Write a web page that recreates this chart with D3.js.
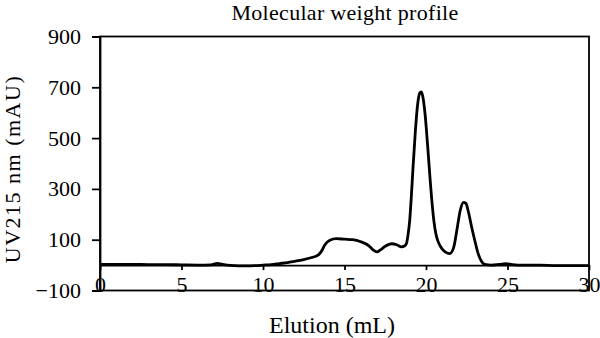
<!DOCTYPE html>
<html>
<head>
<meta charset="utf-8">
<script src="https://cdn.jsdelivr.net/npm/d3@7"></script>
<style>
  html, body { margin: 0; padding: 0; background: #fff; }
  svg { display: block; }
  text { font-family: "Liberation Serif", "Times New Roman", serif; fill: #000; }
</style>
</head>
<body>
<svg id="chart" width="600" height="338"></svg>
<script>
// Chromatogram trace: elution volume (mL) and UV absorbance at 215 nm (mAU)
const elution = [0, 1, 2, 3, 4, 5, 6, 6.8, 7.2, 7.6, 8, 9, 9.5, 10, 10.5, 11, 11.5, 12, 12.5, 13, 13.4, 13.6, 13.8, 14.1, 14.5, 15, 15.5, 16, 16.5, 16.8, 17.0, 17.2, 17.5, 17.9, 18.2, 18.5, 18.7, 18.8, 18.9, 19.0, 19.1, 19.2, 19.35, 19.5, 19.62, 19.7, 19.8, 19.95, 20.1, 20.25, 20.4, 20.5, 20.6, 20.7, 20.8, 20.9, 21.0, 21.2, 21.45, 21.7, 21.9, 22.1, 22.3, 22.45, 22.6, 22.8, 23.0, 23.2, 23.4, 23.6, 24, 24.5, 24.9, 25.3, 26, 27, 28, 29, 30];
const absorbance = [3, 3, 3, 2, 2, 1, 0, 1, 7, 2, -1, -3, -2, 0, 2, 6, 10, 16, 22, 30, 40, 56, 80, 98, 104, 102, 100, 92, 76, 58, 52, 60, 74, 84, 80, 72, 76, 85, 120, 175, 270, 380, 530, 640, 678, 682, 665, 590, 470, 340, 225, 165, 125, 100, 84, 72, 63, 51, 45, 70, 140, 215, 247, 243, 210, 150, 95, 45, 15, 3, 0, 3, 6, 2, 0, 0, -2, -2, -2];

const xTicks = [0, 5, 10, 15, 20, 25, 30];
const yTicks = [-100, 100, 300, 500, 700, 900];

const titleText = "Molecular weight profile";
const xLabel = "Elution (mL)";
const yLabel = "UV215 nm (mAU)";

const svg = d3.select("#chart");
const plotLeft = 100, plotRight = 589, plotTop = 36.5, plotBottom = 290.5;

const x = d3.scaleLinear().domain([0, 30]).range([plotLeft, plotRight]);
const y = d3.scaleLinear().domain([-100, 900]).range([plotBottom, plotTop]);

// frame around the plotting area
svg.append("rect")
  .attr("x", plotLeft).attr("y", plotTop)
  .attr("width", plotRight - plotLeft).attr("height", plotBottom - plotTop)
  .attr("fill", "none").attr("stroke", "#000").attr("stroke-width", 1.8);

// y axis on the left spine
const yAxis = svg.append("g")
  .attr("transform", `translate(${plotLeft},0)`)
  .call(d3.axisLeft(y).tickValues(yTicks).tickSize(8).tickPadding(11)
    .tickFormat(d => d < 0 ? "\u2212" + Math.abs(d) : d));
yAxis.selectAll("text").style("font-size", "22px");
yAxis.selectAll("line, path").attr("stroke", "#000").attr("stroke-width", 1.8);

// x axis drawn along the zero line
const xAxis = svg.append("g")
  .attr("transform", `translate(0,${y(0)})`)
  .call(d3.axisBottom(x).tickValues(xTicks).tickSize(5).tickSizeOuter(0).tickPadding(6));
xAxis.selectAll("text").style("font-size", "22px");
xAxis.selectAll("line, path").attr("stroke", "#000").attr("stroke-width", 1.8);

// absorbance trace
const pts = elution.map((e, i) => [e, absorbance[i]]);
svg.append("path")
  .datum(pts)
  .attr("fill", "none")
  .attr("stroke", "#000")
  .attr("stroke-width", 2.8)
  .attr("stroke-linejoin", "round")
  .attr("d", d3.line().x(d => x(d[0])).y(d => y(d[1])).curve(d3.curveMonotoneX));

// title and axis labels
svg.append("text")
  .attr("x", 345).attr("y", 19.5)
  .attr("text-anchor", "middle")
  .style("font-size", "22px")
  .style("letter-spacing", "0.3px")
  .text(titleText);

svg.append("text")
  .attr("x", 332).attr("y", 333)
  .attr("text-anchor", "middle")
  .style("font-size", "24px")
  .text(xLabel);

svg.append("text")
  .attr("transform", "translate(20,169) rotate(-90)")
  .attr("text-anchor", "middle")
  .style("font-size", "22px")
  .style("letter-spacing", "1.5px")
  .text(yLabel);
</script>
</body>
</html>
